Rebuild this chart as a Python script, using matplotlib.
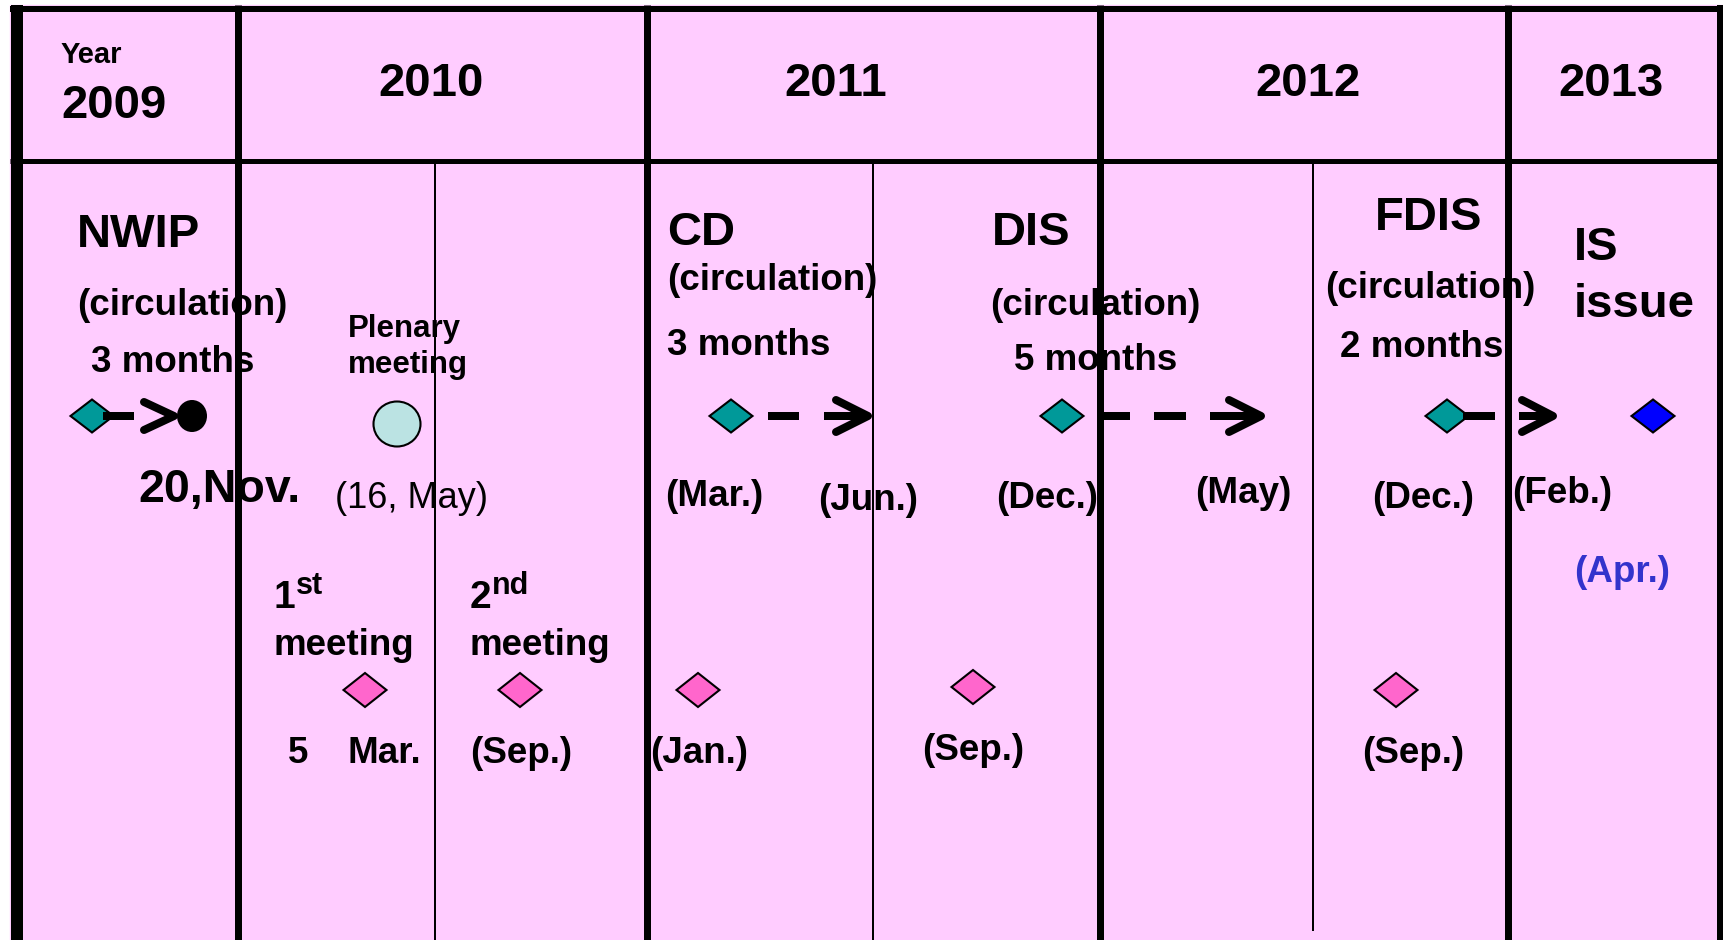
import matplotlib as mpl
import matplotlib.pyplot as plt
from matplotlib.patches import Polygon, Ellipse, Rectangle

# chart content
years = ['2009', '2010', '2011', '2012', '2013']
stages = ['NWIP', 'CD', 'DIS', 'FDIS']
circulation = ['(circulation)'] * 4
durations = ['3 months', '3 months', '5 months', '2 months']
start_dates = ['20,Nov.', '(Mar.)', '(Dec.)', '(Dec.)']
end_dates = ['', '(Jun.)', '(May)', '(Feb.)']
issue_label = ['IS', 'issue']
issue_date = '(Apr.)'
plenary_label = ['Plenary', 'meeting']
plenary_date = '(16, May)'
meeting_no = [('1', 'st'), ('2', 'nd')]
meeting_dates = ['5    Mar.', '(Sep.)', '(Jan.)', '(Sep.)', '(Sep.)']

W, H = 1723, 940
dpi = 100
PX = 72 / dpi  # pixel -> points

mpl.rcParams['font.family'] = ['Liberation Sans', 'DejaVu Sans']

fig = plt.figure(figsize=(W / dpi, H / dpi), dpi=dpi)
ax = fig.add_axes([0, 0, 1, 1])
ax.set_xlim(0, W)
ax.set_ylim(H, 0)
ax.axis('off')

# background
ax.add_patch(Rectangle((10, 5), W - 10, H - 5, color='#FFCCFF', zorder=0))

# grid of the table
year_edges = [238, 647, 1100, 1508]
half_years = [435, 873, 1313]
ax.plot([17, 17], [5, H], color='black', lw=12 * PX, solid_capstyle='butt')
ax.plot([10, W], [8.5, 8.5], color='black', lw=6 * PX, solid_capstyle='butt')
ax.plot([1720, 1720], [5, H], color='black', lw=6 * PX, solid_capstyle='butt')
ax.plot([10, W], [160.5, 160.5], color='black', lw=5 * PX, solid_capstyle='butt')
for x in year_edges:
    ax.plot([x, x], [5, H], color='black', lw=7 * PX, solid_capstyle='butt')
for x, y1 in zip(half_years, [H, H, 931]):
    ax.plot([x, x], [160, y1], color='black', lw=2 * PX, solid_capstyle='butt')

big = 34
mid = 26.5


def label(x, y, s, size=mid, ha='left', color='black', weight='bold'):
    ax.text(x, y, s, fontsize=size, ha=ha, va='baseline', color=color,
            fontweight=weight, zorder=5)


# header
label(61, 63, 'Year', size=21)
label(61, 118, years[0], size=big)
for x, yr in zip([431, 836, 1308, 1611], years[1:]):
    label(x, 96, yr, size=big, ha='center')

# stage titles
title_pos = [(77, 247), (667, 245), (992, 245), (1375, 230)]
circ_pos = [(77, 315), (667, 290), (990, 315), (1325, 298)]
dur_pos = [(91, 372), (667, 355), (1014, 370), (1340, 357)]
for i in range(4):
    label(*title_pos[i], stages[i], size=big)
    label(*circ_pos[i], circulation[i])
    label(*dur_pos[i], durations[i])
label(1574, 260, issue_label[0], size=big)
label(1574, 317, issue_label[1], size=big)

# start / end dates
start_pos = [(138, 502), (665, 506), (996, 508), (1372, 508)]
end_pos = [None, (818, 510), (1195, 503), (1512, 503)]
label(*start_pos[0], start_dates[0], size=33.5)
for i in range(1, 4):
    label(*start_pos[i], start_dates[i])
    label(*end_pos[i], end_dates[i])
label(1574, 582, issue_date, color='#3333CC')


def diamond(cx, cy, color, w=43, h=33):
    ax.add_patch(Polygon([(cx - w / 2, cy), (cx, cy - h / 2), (cx + w / 2, cy),
                          (cx, cy + h / 2)], closed=True, facecolor=color,
                         edgecolor='black', lw=1.5, zorder=4))


def bar(x0, x1, y=416):
    ax.plot([x0, x1], [y, y], color='black', lw=8 * PX,
            solid_capstyle='butt', zorder=5)


def head(x_tip, length=32, half=16, y=416):
    # tip is given as the outer point; the round join reaches ~4 px further
    xt = x_tip - 4
    ax.plot([xt - length, xt, xt - length], [y - half, y, y + half],
            color='black', lw=8 * PX, solid_capstyle='round',
            solid_joinstyle='round', zorder=5)


# stage markers on the circulation row
y_row = 416
for cx in [92, 731, 1062, 1447]:
    diamond(cx, y_row, '#009999')
diamond(1653, y_row, '#0000FF')

# NWIP: bar, chevron, dot
bar(103, 134)
head(178, length=30, half=14)
ax.add_patch(Ellipse((192, 416), 30, 32, facecolor='black', zorder=5))

# CD
bar(768, 799)
bar(824, 866)
head(872)
# DIS
bar(1102, 1130)
bar(1154, 1186)
bar(1210, 1259)
head(1265)
# FDIS
bar(1463, 1495)
bar(1519, 1551)
head(1557, length=31)

# plenary meeting
label(348, 337, plenary_label[0], size=22.5)
label(348, 373, plenary_label[1], size=22.5)
ax.add_patch(Ellipse((397, 424), 47, 45, facecolor='#BBE3E3',
                     edgecolor='black', lw=1.5, zorder=4))
label(335, 508, plenary_date, size=26, weight='normal')

# working group meetings
for (num, sup), x in zip(meeting_no, [274, 470]):
    label(x, 608, num, size=28)
    label(x + 22, 594, sup, size=22)
    label(x, 655, 'meeting')

for cx, cy in [(365, 690), (520, 690), (698, 690), (973, 687), (1396, 690)]:
    diamond(cx, cy, '#FF66CC', w=43, h=34)

label(288, 763, meeting_dates[0].split()[0])
label(347, 763, meeting_dates[0].split()[1])
date_pos = [(470, 763), (650, 763), (922, 760), (1362, 763)]
for (x, y), s in zip(date_pos, meeting_dates[1:]):
    label(x, y, s)

fig.savefig('out.png', dpi=dpi)
